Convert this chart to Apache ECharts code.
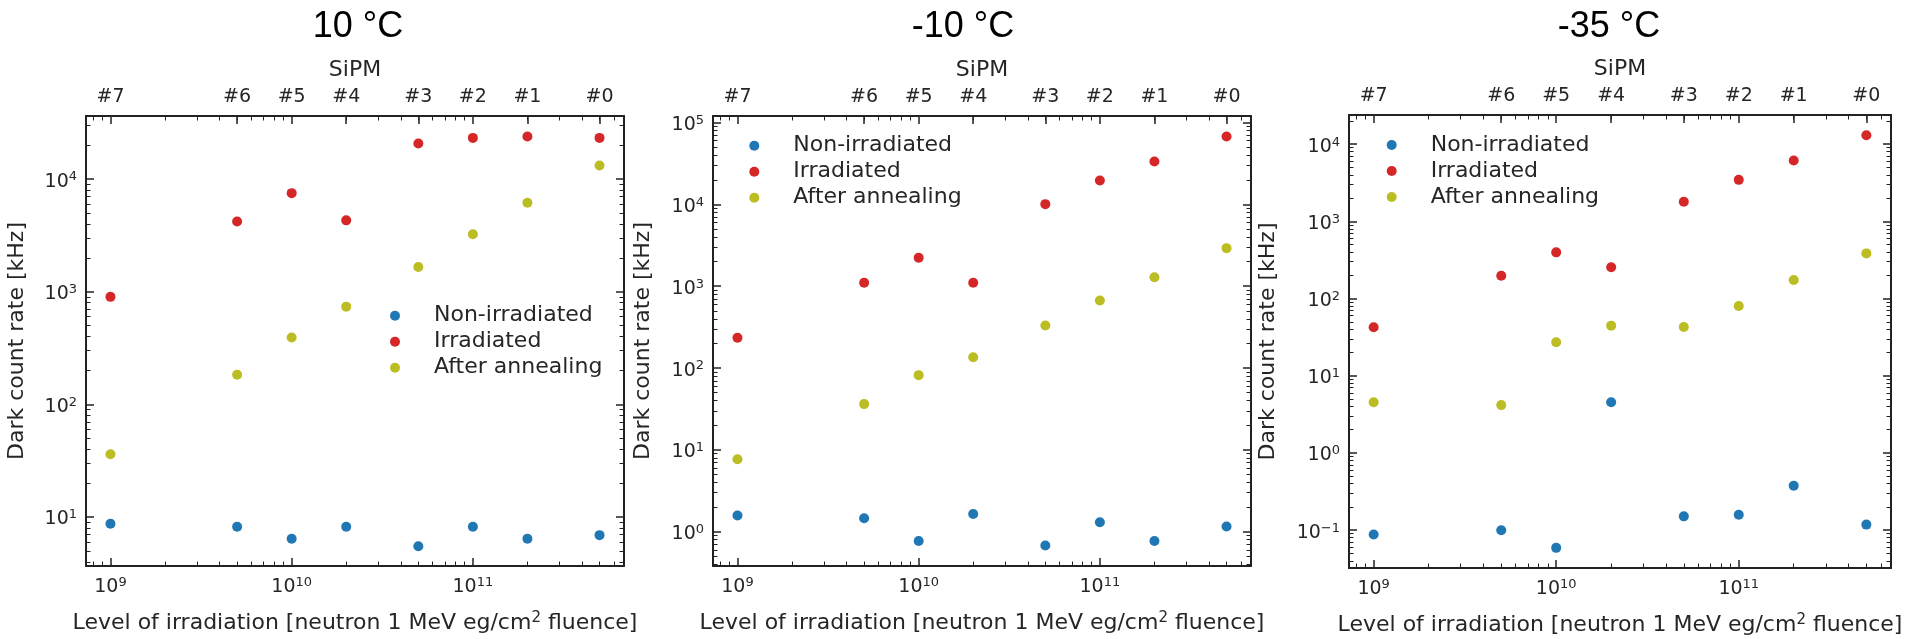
<!DOCTYPE html>
<html>
<head>
<meta charset="utf-8">
<script src="https://cdn.jsdelivr.net/npm/echarts@6/dist/echarts.min.js"></script>
<style>
html,body{margin:0;padding:0;background:#ffffff;}
#chart{width:1915px;height:639px;}
</style>
</head>
<body>
<div id="chart"></div>
<script>
// ---------------- data ----------------
const fluence = [1e9, 5e9, 1e10, 2e10, 5e10, 1e11, 2e11, 5e11];
const sipmLabels = ['#7', '#6', '#5', '#4', '#3', '#2', '#1', '#0'];
const seriesNames = ['Non-irradiated', 'Irradiated', 'After annealing'];
const panelTitles = ['10 °C', '-10 °C', '-35 °C'];

// 10 °C
const nonIrradiated10 = [8.7, 8.2, 6.4, 8.2, 5.5, 8.2, 6.4, 6.9];
const irradiated10 = [900, 4200, 7500, 4300, 20700, 23200, 23900, 23200];
const annealed10 = [36, 183, 392, 737, 1655, 3240, 6170, 13200];

// -10 °C
const nonIrradiatedM10 = [1.58, 1.46, 0.77, 1.65, 0.68, 1.31, 0.77, 1.16];
const irradiatedM10 = [235, 1105, 2230, 1105, 10070, 19600, 33400, 67400];
const annealedM10 = [7.7, 36.3, 82, 136, 332, 671, 1290, 2920];

// -35 °C
const nonIrradiatedM35 = [0.088, 0.10, 0.059, 4.55, 0.151, 0.158, 0.377, 0.118];
const irradiatedM35 = [42.5, 198, 397, 254, 1794, 3450, 6150, 13070];
const annealedM35 = [4.55, 4.17, 27.2, 44.6, 42.9, 80.2, 174, 385];

// tick exponents (labels 10^n)
const xTickExponents = [9, 10, 11];
const yTickExponents10 = [1, 2, 3, 4];
const yTickExponentsM10 = [0, 1, 2, 3, 4, 5];
const yTickExponentsM35 = [-1, 0, 1, 2, 3, 4];

const xAxisTitle = 'Level of irradiation [neutron 1 MeV eg/cm{s|2} fluence]';
const yAxisTitle = 'Dark count rate [kHz]';
const topAxisTitle = 'SiPM';

// ---------------- style / layout ----------------
const colors = ['#1f77b4', '#d62728', '#bcbd22'];
const FONT = 'DejaVu Sans';
const TXT = '#262626';
const FRAME = '#222222';

const panelData = [
  [nonIrradiated10, irradiated10, annealed10],
  [nonIrradiatedM10, irradiatedM10, annealedM10],
  [nonIrradiatedM35, irradiatedM35, annealedM35]
];
const panelYTicks = [yTickExponents10, yTickExponentsM10, yTickExponentsM35];

const layout = [
  { grid: { left: 86, top: 116, width: 538, height: 450 }, yRange: [0.565, 4.56], yNameGap: 57,
    legend: { left: 390, top: 302.7 }, titleX: 358 },
  { grid: { left: 713, top: 116, width: 538, height: 450 }, yRange: [-0.418, 5.08], yNameGap: 58,
    legend: { left: 749.3, top: 132.7 }, titleX: 963 },
  { grid: { left: 1349, top: 115, width: 542, height: 453 }, yRange: [-1.49, 4.378], yNameGap: 69,
    legend: { left: 1386.7, top: 132 }, titleX: 1609 }
];
const xRange = [8.865, 11.834];

function powLabel(v) {
  return '{b|10}{s|' + String(Math.round(v)).replace('-', '\u2212') + '}';
}
function minorTicks(lo, hi) {
  const out = [];
  for (let e = Math.floor(lo) - 1; e <= Math.ceil(hi); e++) {
    for (let k = 2; k <= 9; k++) {
      const v = e + Math.log10(k);
      if (v > lo && v < hi) out.push(v);
    }
  }
  return out;
}
const xPositions = fluence.map(f => Math.log10(f));
const xMinor = minorTicks(xRange[0], xRange[1]);

function baseAxis(gridIndex, position, range) {
  return {
    type: 'value', gridIndex: gridIndex, position: position,
    min: range[0], max: range[1], scale: false,
    splitLine: { show: false },
    axisLine: { show: false, onZero: false },
    axisTick: { show: false },
    axisLabel: { show: false },
    axisPointer: { show: false },
    silent: true
  };
}
const lineStyle = { color: FRAME, width: 2 };
const labelStyle = { fontFamily: FONT, fontSize: 19, color: TXT, lineHeight: 20 };
const powRich = {
  b: { fontFamily: FONT, fontSize: 19, color: TXT, lineHeight: 22 },
  s: { fontFamily: FONT, fontSize: 13, color: TXT, lineHeight: 13, verticalAlign: 'top' }
};
const nameStyle = { fontFamily: FONT, fontSize: 22, color: TXT, lineHeight: 24,
  rich: { s: { fontFamily: FONT, fontSize: 15, color: TXT, lineHeight: 14, verticalAlign: 'top' } } };

const grids = [], xAxes = [], yAxes = [], series = [], legends = [], graphics = [];

layout.forEach((L, p) => {
  grids.push(Object.assign({ containLabel: false, outerBoundsMode: 'none' }, L.grid));
  const yMinor = minorTicks(L.yRange[0], L.yRange[1]);

  // x axes: 0 bottom main, 1 bottom minor, 2 top SiPM, 3 top minor
  const xb = baseAxis(p, 'bottom', xRange);
  xb.axisLine = { show: true, onZero: false, lineStyle: lineStyle };
  xb.axisTick = { show: true, inside: true, length: 8, customValues: xTickExponents, lineStyle: { color: FRAME, width: 1.5 } };
  xb.axisLabel = Object.assign({ show: true, margin: 10, customValues: xTickExponents, formatter: powLabel, rich: powRich }, labelStyle);
  xb.name = xAxisTitle; xb.nameLocation = 'middle'; xb.nameGap = 45; xb.nameTextStyle = nameStyle;
  xAxes.push(xb);

  const xbm = baseAxis(p, 'bottom', xRange);
  xbm.axisTick = { show: true, inside: true, length: 4.5, customValues: xMinor, lineStyle: { color: FRAME, width: 1 } };
  xAxes.push(xbm);

  const xt = baseAxis(p, 'top', xRange);
  xt.axisLine = { show: true, onZero: false, lineStyle: lineStyle };
  xt.axisTick = { show: true, inside: true, length: 8, customValues: xPositions, lineStyle: { color: FRAME, width: 1.5 } };
  xt.axisLabel = Object.assign({ show: true, margin: 9, customValues: xPositions,
    formatter: function (v) {
      const i = xPositions.findIndex(x => Math.abs(x - v) < 1e-6);
      return i >= 0 ? sipmLabels[i] : '';
    } }, labelStyle);
  xt.name = topAxisTitle; xt.nameLocation = 'middle'; xt.nameGap = 33; xt.nameTextStyle = nameStyle;
  xAxes.push(xt);

  const xtm = baseAxis(p, 'top', xRange);
  xtm.axisTick = { show: true, inside: true, length: 4.5, customValues: xMinor, lineStyle: { color: FRAME, width: 1 } };
  xAxes.push(xtm);

  // y axes: 0 left main, 1 left minor, 2 right main, 3 right minor
  const yl = baseAxis(p, 'left', L.yRange);
  yl.axisLine = { show: true, onZero: false, lineStyle: lineStyle };
  yl.axisTick = { show: true, inside: true, length: 8, customValues: panelYTicks[p], lineStyle: { color: FRAME, width: 1.5 } };
  yl.axisLabel = Object.assign({ show: true, margin: 9, customValues: panelYTicks[p], formatter: powLabel, rich: powRich,
    padding: [5, 0, 0, 0] }, labelStyle);
  yl.name = yAxisTitle; yl.nameLocation = 'middle'; yl.nameGap = L.yNameGap; yl.nameTextStyle = nameStyle;
  yAxes.push(yl);

  const ylm = baseAxis(p, 'left', L.yRange);
  ylm.axisTick = { show: true, inside: true, length: 4.5, customValues: yMinor, lineStyle: { color: FRAME, width: 1 } };
  yAxes.push(ylm);

  const yr = baseAxis(p, 'right', L.yRange);
  yr.axisLine = { show: true, onZero: false, lineStyle: lineStyle };
  yr.axisTick = { show: true, inside: true, length: 8, customValues: panelYTicks[p], lineStyle: { color: FRAME, width: 1.5 } };
  yAxes.push(yr);

  const yrm = baseAxis(p, 'right', L.yRange);
  yrm.axisTick = { show: true, inside: true, length: 4.5, customValues: yMinor, lineStyle: { color: FRAME, width: 1 } };
  yAxes.push(yrm);

  panelData[p].forEach((vals, s) => {
    series.push({
      type: 'scatter', name: seriesNames[s],
      xAxisIndex: 4 * p, yAxisIndex: 4 * p,
      data: fluence.map((f, i) => [Math.log10(f), Math.log10(vals[i])]),
      symbol: 'circle', symbolSize: 10,
      itemStyle: { color: colors[s], opacity: 1 },
      emphasis: { disabled: true },
      silent: true, animation: false, z: 3
    });
  });

  legends.push({
    show: true, orient: 'vertical', left: L.legend.left, top: L.legend.top,
    data: seriesNames, icon: 'circle', itemWidth: 10, itemHeight: 10, itemGap: 0,
    selectedMode: false, padding: 0,
    textStyle: { fontFamily: FONT, fontSize: 22, color: TXT, lineHeight: 26, padding: [0, 0, 0, 29] }
  });

  graphics.push({
    type: 'text', x: L.titleX, y: 27, silent: true,
    style: { text: panelTitles[p], fill: '#000000', font: '36px "Liberation Sans", Arial, sans-serif',
      align: 'center', verticalAlign: 'middle', textAlign: 'center', textVerticalAlign: 'middle' }
  });
});

const chart = echarts.init(document.getElementById('chart'), null, { renderer: 'canvas' });
chart.setOption({
  backgroundColor: '#ffffff',
  animation: false,
  color: colors,
  textStyle: { fontFamily: FONT },
  grid: grids,
  xAxis: xAxes,
  yAxis: yAxes,
  legend: legends,
  tooltip: { show: false },
  graphic: graphics,
  series: series
});
</script>
</body>
</html>
